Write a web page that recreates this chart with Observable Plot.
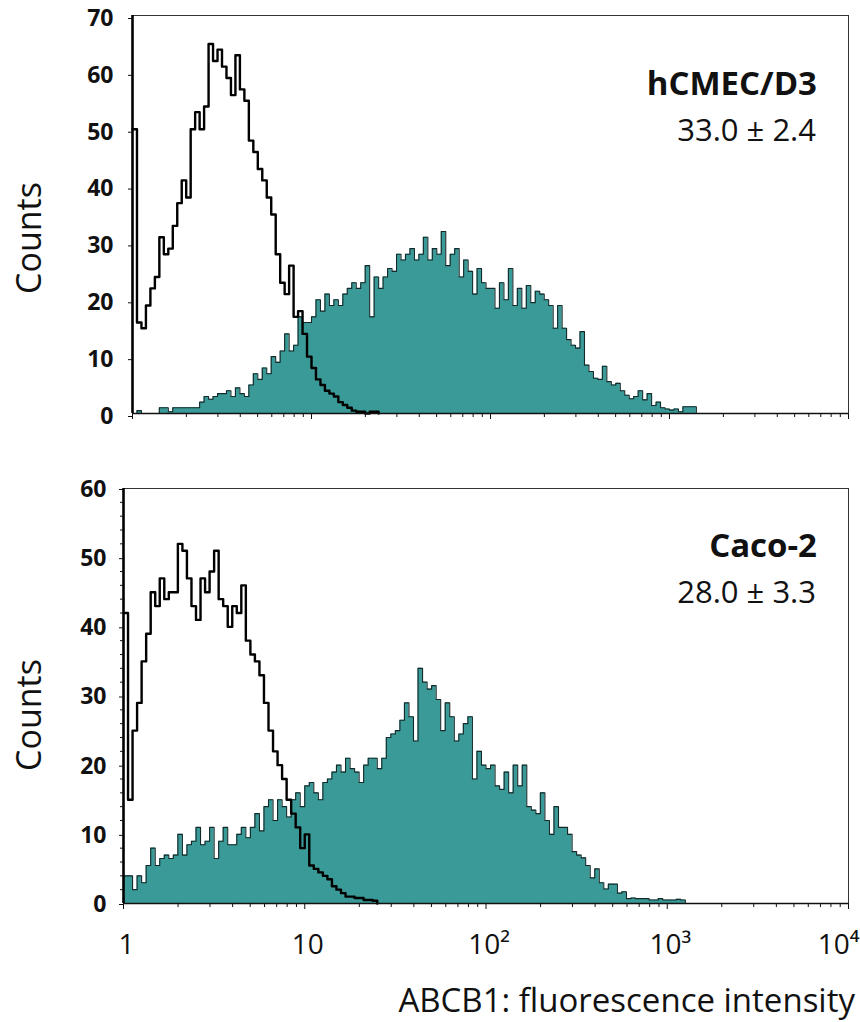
<!DOCTYPE html>
<html>
<head>
<meta charset="utf-8">
<script src="https://cdn.jsdelivr.net/npm/d3@7"></script>
<script src="https://cdn.jsdelivr.net/npm/@observablehq/plot@0.6"></script>
<style>
  body { margin: 0; background: #fff; }
  #wrap { position: relative; width: 860px; height: 1022px; overflow: hidden; font-family: "Open Sans", sans-serif; color: #111; }
  .abs { position: absolute; }
  .counts { position: absolute; width: 200px; text-align: center; font-size: 34px; line-height: 34px; transform: rotate(-90deg); transform-origin: 50% 50%; white-space: nowrap; }
  .name { position: absolute; font-weight: bold; font-size: 33px; line-height: 33px; white-space: nowrap; text-align: right; }
  .val { position: absolute; font-size: 31px; line-height: 31px; white-space: nowrap; text-align: right; }
  #xtitle { position: absolute; right: 5px; top: 983px; font-size: 33px; line-height: 33px; white-space: nowrap; }
</style>
</head>
<body>
<div id="wrap">
  <div id="top" class="abs" style="left:0;top:0"></div>
  <div id="bottom" class="abs" style="left:0;top:470px"></div>
  <div class="counts" style="left:-72px;top:221px">Counts</div>
  <div class="counts" style="left:-72px;top:698px">Counts</div>
  <div class="name" style="right:43px;top:66px">hCMEC/D3</div>
  <div class="val" style="right:44px;top:114px">33.0 ± 2.4</div>
  <div class="name" style="right:43px;top:528px">Caco-2</div>
  <div class="val" style="right:44px;top:576px">28.0 ± 3.3</div>
  <div id="xtitle">ABCB1: fluorescence intensity</div>
</div>
<script>
// ---- data (counts per channel, channels spaced 0.025 decades from intensity 1) ----
const channelStepDecades = 0.025;

const hcmecIsotype = [50,16,15,19,22,24,31,28,29,33, 37,41,38,50,53,50,54,65,62,64,
  61,59,56,63,57,55,48,46,43,41, 38,35,28,23,21,26,17,18,14,10,
  8,6,5,4,3.5,3,2,1.5,1,0.5, 0.3,0.3,0,0.3,0.3,0];

const hcmecABCB1 = [0,0.5,0,0,0,0,1,1,0.3,1,
  1,1,1,1,1,2,3,2.5,3,3.5,
  3.5,4,3,4.5,3.5,3,5,7,6,8,
  7,10,9,11,14,11,12,17,16,16,
  17,20,18,21,19,20,19,21,22,23,
  22,23,26,17,24,22,24,25.5,25,28,
  27,28,29,27,28,31,27,29,28,32,
  26,28,29,24,27,25,21,25.5,23,22,
  22,18.5,23,20,25.5,19,22,18.5,22.5,19.5,
  21.5,21,20,19,15,19,15,13,12,11.5,
  14.4,8.5,7.4,6.2,6,8.3,5.6,5,5.3,4,
  3.2,2.6,3,4,2.4,3.5,1.4,2,1,0.8,
  0.6,0.8,0.3,1.2,1.2,1.2,0];

const cacoIsotype = [42,15,25,29,35,39,45,43,47,44,
  45,45,52,51,47,43,41,47,45,48,
  51,44,43,40,43,42,46,38,36,35,
  33,29,25,22,20,18,15,13,11,8,
  10,5.5,5,4.5,4,3.5,2.5,2,1.5,1,
  1,0.8,0.8,0.5,0.5,0.4,0];

const cacoABCB1 = [4,4,2,4,3,5.5,8,5.5,6.5,7,
  6.5,7,10,7,8.5,9,11,8.5,9,11,
  6.5,9,11,8.5,8.5,10,11,9.5,11,13,
  10.5,14,15,12,15,14,12.5,15,16,14,
  17,17.5,16,15,17.5,18,19,20,19,21,
  19.5,19,17.5,20,21,21,19.5,21,24,24.5,
  25,26.5,29,27,23.5,34,32,31,31.5,29.5,
  25,29,27,23.5,24.5,26,27,18,22,20,
  19.5,20,17,16.5,19,16,20,17,20,14,
  13.5,13,16,12,10,14,11,11,10,7.5,
  7,6.6,5.5,3.7,5,3,2.1,2.8,2.8,1.5,
  1.7,0.7,0.8,0.7,0.7,0.7,0.5,0.5,0.7,0.5,
  0.5,0.5,0.6,0.5,0];

const xDomain = [1, 10000];
const xMajorTicks = [1, 10, 100, 1000, 10000];
const xTickLabels = ["1", "10", "10²", "10³", "10⁴"];
const xMinorTicks = [2,3,4,5,6,7,8,9, 20,30,40,50,60,70,80,90, 200,300,400,500,600,700,800,900, 2000,3000,4000,5000,6000,7000,8000,9000];
const yTicksTop = [0,10,20,30,40,50,60,70];
const yTicksBottom = [0,10,20,30,40,50,60];
const yMinorBottom = [2,4,6,8,12,14,16,18,22,24,26,28,32,34,36,38,42,44,46,48,52,54,56,58];

const teal = "#3a9a97";

const rows = (vals) => vals.map((c, i) => ({x: Math.pow(10, i * channelStepDecades), count: c}));

function panel({iso, abcb1, yMax, yTicks, yMinor, height, mt, mb, ml, tickPad, labelDy, labels}) {
  const isoRows = rows(iso), abRows = rows(abcb1);
  const marks = [
    Plot.areaY(abRows, {x: "x", y: "count", curve: "step-after", fill: teal}),
    Plot.lineY(abRows, {x: "x", y: "count", curve: "step-after", stroke: "#142a2a", strokeWidth: 1.1}),
    Plot.lineY(isoRows, {x: "x", y: "count", curve: "step-after", stroke: "#000", strokeWidth: 2.4}),
    Plot.frame({stroke: "#333", strokeWidth: 1}),
    Plot.ruleY([0], {stroke: "#111", strokeWidth: 1.6}),
    Plot.ruleX([xDomain[0]], {stroke: "#000", strokeWidth: 2.6}),
    Plot.axisY(yTicks, {anchor: "left", tickSize: 4, tickPadding: tickPad, dy: labelDy, fontSize: 23, fontWeight: "bold", label: null, fill: "#111"}),
    Plot.axisX(xMajorTicks, {anchor: "bottom", tickSize: 6, tickFormat: () => "", label: null}),
    Plot.axisX(xMinorTicks, {anchor: "bottom", tickSize: 4, tickFormat: () => "", label: null})
  ];
  if (yMinor) marks.push(Plot.axisY(yMinor, {anchor: "left", tickSize: 3, tickFormat: () => "", label: null}));
  if (labels) {
    const lab = xMajorTicks.map((v, i) => ({v, t: xTickLabels[i]}));
    marks.push(Plot.text(lab.slice(0, 4), {x: "v", text: "t", frameAnchor: "bottom", lineAnchor: "bottom", dy: 50, dx: 3, fontSize: 28, fill: "#111"}));
    marks.push(Plot.text(lab.slice(4), {x: "v", text: "t", frameAnchor: "bottom", lineAnchor: "bottom", dy: 50, dx: 11, textAnchor: "end", fontSize: 28, fill: "#111"}));
  }
  return Plot.plot({
    width: 860, height,
    marginLeft: ml, marginRight: 12, marginTop: mt, marginBottom: mb,
    x: {type: "log", domain: xDomain, axis: null},
    y: {domain: [0, yMax], axis: null},
    style: {fontFamily: "'Open Sans', sans-serif", background: "transparent", overflow: "visible"},
    marks
  });
}

document.getElementById("top").append(panel({
  iso: hcmecIsotype, abcb1: hcmecABCB1, yMax: 70, yTicks: yTicksTop, yMinor: null,
  height: 430, mt: 15, mb: 17, ml: 132, tickPad: 15, labelDy: 3, labels: false
}));
document.getElementById("bottom").append(panel({
  iso: cacoIsotype, abcb1: cacoABCB1, yMax: 60, yTicks: yTicksBottom, yMinor: yMinorBottom,
  height: 500, mt: 18, mb: 67, ml: 123, tickPad: 13, labelDy: 1, labels: true
}));
</script>
</body>
</html>
